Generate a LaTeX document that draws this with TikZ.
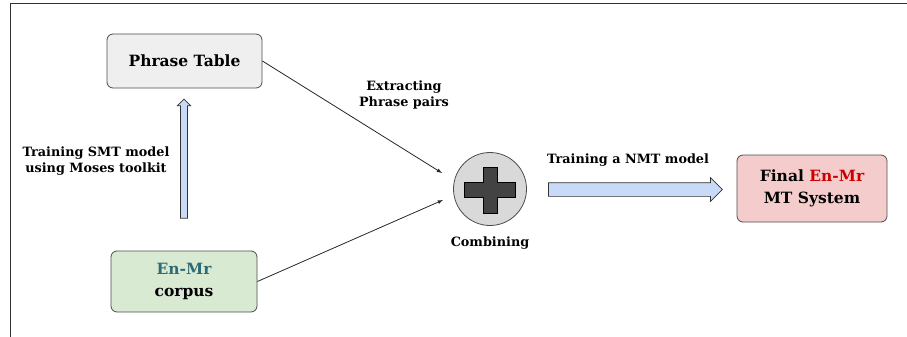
\documentclass[tikz,border=0pt]{standalone}
\usepackage{fontspec}
\setmainfont{DejaVu Serif}
\usepackage{tikz}
\usetikzlibrary{arrows,shapes}
\definecolor{ptfill}{HTML}{EFEFEF}
\definecolor{corpusfill}{HTML}{D9EAD3}
\definecolor{finalfill}{HTML}{F4CCCC}
\definecolor{enmrteal}{HTML}{2F6B75}
\definecolor{enmrred}{HTML}{CC0000}
\definecolor{fatfill}{HTML}{C9DAF8}
\definecolor{combfill}{HTML}{D9D9D9}
\definecolor{plusfill}{HTML}{434343}

\begin{document}
\begin{tikzpicture}[x=1pt,y=-1pt]
\tikzstyle{box}=[draw=black!70,rounded corners=6pt,line width=0.8pt,align=center,font=\bfseries\fontsize{15.5}{22}\selectfont];
\tikzstyle{lbl}=[align=center,font=\bfseries\fontsize{12.8}{16}\selectfont];
\tikzstyle{fat}=[draw=black!80,fill=fatfill,line width=0.7pt,single arrow,minimum width=0pt,inner xsep=0pt];
\useasboundingbox (0,0) rectangle (907,337);
\draw[black!80,line width=1pt] (907,4) -- (10,4) -- (10,337);
\node[box,fill=ptfill,minimum width=155pt,minimum height=54pt] (pt) at (184.5,61) {Phrase Table};
\node[box,fill=corpusfill,minimum width=146pt,minimum height=61pt] (corpus) at (184,281.5) {\textcolor{enmrteal}{En-Mr}\\corpus};
\node[box,fill=finalfill,minimum width=150pt,minimum height=67pt] (final) at (812,188.5) {Final \textcolor{enmrred}{En-Mr}\\MT System};
\node[circle,draw=black!70,fill=combfill,line width=0.8pt,minimum size=73pt] (comb) at (490,189) {};
\draw[fill=plusfill,draw=black,line width=0.6pt] ([shift={(-7,-22)}]comb.center) -- ++(14,0) -- ++(0,15.5) -- ++(18.5,0) -- ++(0,15) -- ++(-18.5,0) -- ++(0,15.5) -- ++(-14,0) -- ++(0,-15.5) -- ++(-18.5,0) -- ++(0,-15) -- ++(18.5,0) -- cycle;
\node[fat,rotate=90,minimum height=119pt,inner ysep=3.2pt,single arrow head extend=3pt] (smt) at (184,160.5) {};
\node[fat,minimum height=174pt,inner ysep=6.5pt,single arrow head extend=5pt] (nmt) at (632,189.5) {};
\node[lbl] (smtlbl) at (96,161) {Training SMT model\\using Moses toolkit};
\node[lbl] (extlbl) at (404,95) {Extracting\\Phrase pairs};
\node[lbl] (comblbl) at (490,243) {Combining};
\node[lbl] (nmtlbl) at (628,160) {Training a NMT model};
\coordinate (in1) at (442,173);
\coordinate (in2) at (443,200);
\draw[-latex,black!85,line width=0.8pt] (pt.east) -- (in1);
\draw[-latex,black!85,line width=0.8pt] (corpus.east) -- (in2);
\end{tikzpicture}
\end{document}
